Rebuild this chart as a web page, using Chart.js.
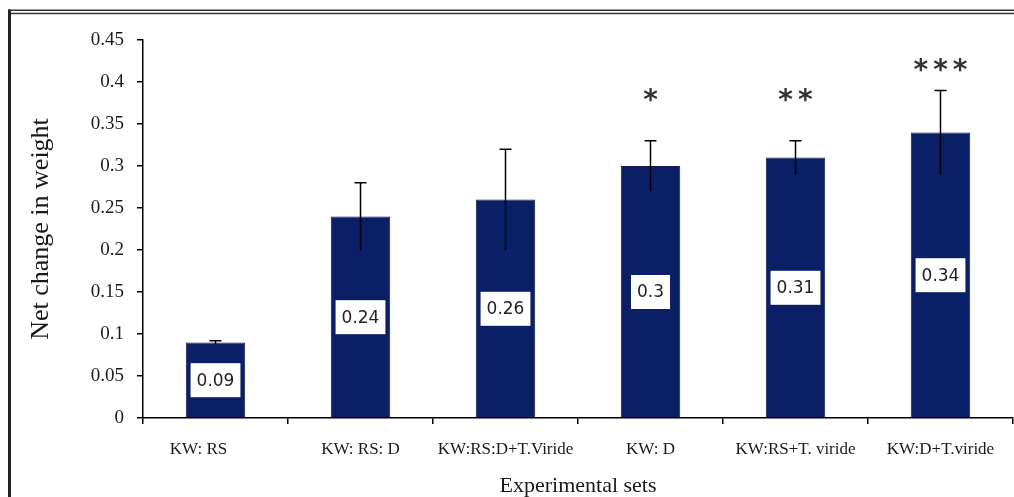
<!DOCTYPE html>
<html>
<head>
<meta charset="utf-8">
<script src="https://cdn.jsdelivr.net/npm/chart.js@4/dist/chart.umd.min.js"></script>
<style>
    html, body { margin: 0; padding: 0; background: #fff; }
    #wrap { width: 1014px; height: 497px; position: relative; }
</style>
</head>
<body>
<div id="wrap"><canvas id="weightChart"></canvas></div>
<script>
// chart data
const categories = ['KW: RS        ', 'KW: RS: D', 'KW:RS:D+T.Viride', 'KW: D', 'KW:RS+T. viride', 'KW:D+T.viride'];
const netChange = [0.09, 0.24, 0.26, 0.3, 0.31, 0.34];
const errors = [0.002, 0.04, 0.06, 0.03, 0.02, 0.05];
const significance = ['', '', '', '*', '**', '***'];
const significanceAt = [null, null, null, 0.385, 0.385, 0.42];
const yTicks = [0, 0.05, 0.1, 0.15, 0.2, 0.25, 0.3, 0.35, 0.4, 0.45];

const serif = '"Liberation Serif", "Times New Roman", serif';

// frame round the figure (double line on top)
const framePlugin = {
    id: 'frame',
    beforeDraw(chart) {
        const ctx = chart.ctx;
        ctx.save();
        ctx.strokeStyle = '#333';
        ctx.lineWidth = 1.5;
        ctx.beginPath();
        ctx.moveTo(8, 10.2); ctx.lineTo(1014, 10.2);
        ctx.moveTo(8, 13.4); ctx.lineTo(1014, 13.4);
        ctx.stroke();
        ctx.lineWidth = 3;
        ctx.strokeStyle = '#222';
        ctx.beginPath();
        ctx.moveTo(9.5, 9.5); ctx.lineTo(9.5, 497);
        ctx.stroke();
        ctx.restore();
    }
};

// error bars, value boxes and significance stars
const annotatePlugin = {
    id: 'annotate',
    afterDatasetsDraw(chart) {
        const ctx = chart.ctx;
        const y = chart.scales.y;
        const bars = chart.getDatasetMeta(0).data;
        ctx.save();
        bars.forEach((bar, i) => {
            const v = netChange[i];
            const e = errors[i];
            const x = bar.x;
            const top = y.getPixelForValue(v + e);
            const bottom = y.getPixelForValue(v - e);

            // error bar
            ctx.strokeStyle = '#000';
            ctx.lineWidth = 1.5;
            ctx.beginPath();
            ctx.moveTo(x, top); ctx.lineTo(x, bottom);
            ctx.moveTo(x - 6, top); ctx.lineTo(x + 6, top);
            ctx.stroke();

            // value box in the middle of the bar
            ctx.font = '17px "DejaVu Sans", sans-serif';
            const label = String(v);
            const w = ctx.measureText(label).width + 12;
            const h = 34;
            const cy = y.getPixelForValue(v / 2);
            ctx.fillStyle = '#fff';
            ctx.fillRect(x - w / 2, cy - h / 2, w, h);
            ctx.fillStyle = '#222';
            ctx.textAlign = 'center';
            ctx.textBaseline = 'middle';
            ctx.fillText(label, x, cy + 1);

            // significance
            if (significance[i]) {
                ctx.font = 'bold 28px "DejaVu Sans", sans-serif';
                ctx.letterSpacing = '5px';
                ctx.fillStyle = '#333';
                ctx.fillText(significance[i], x + 2.5, y.getPixelForValue(significanceAt[i]) + 7);
                ctx.letterSpacing = '0px';
            }
        });
        ctx.restore();
    }
};

new Chart(document.getElementById('weightChart'), {
    type: 'bar',
    data: {
        labels: categories,
        datasets: [{
            label: 'Net change in weight',
            data: netChange,
            backgroundColor: '#0a1f66',
            borderColor: '#141a4a',
            borderWidth: 1,
            barPercentage: 0.41,
            categoryPercentage: 1
        }]
    },
    options: {
        responsive: true,
        maintainAspectRatio: false,
        animation: false,
        layout: { padding: { top: 40, right: 1, left: 0, bottom: 0 } },
        plugins: {
            legend: { display: false },
            tooltip: { enabled: false }
        },
        scales: {
            x: {
                offset: true,
                grid: { display: true, drawOnChartArea: false, offset: true, tickLength: 6, color: '#000', lineWidth: 1.5 },
                border: { display: true, color: '#000', width: 1.5 },
                ticks: { color: '#1a1a1a', padding: 15, font: { family: serif, size: 17 }, maxRotation: 0, autoSkip: false },
                title: {
                    display: true,
                    text: 'Experimental sets',
                    color: '#1a1a1a',
                    font: { family: serif, size: 22, lineHeight: 1 },
                    padding: { top: 0, bottom: 0 }
                },
                afterFit: scale => { scale.height = 79; }
            },
            y: {
                min: 0,
                max: 0.45,
                afterBuildTicks: scale => { scale.ticks = yTicks.map(v => ({ value: v })); },
                grid: { display: true, drawOnChartArea: false, tickLength: 6, color: '#000', lineWidth: 1.5 },
                border: { display: true, color: '#000', width: 1.5 },
                ticks: {
                    color: '#1a1a1a',
                    padding: 13,
                    font: { family: serif, size: 19 },
                    callback: v => String(+v.toFixed(2))
                },
                title: {
                    display: true,
                    text: 'Net change in weight',
                    color: '#1a1a1a',
                    font: { family: serif, size: 26 },
                    padding: { top: 26, bottom: 0 }
                },
                afterFit: scale => { scale.width = 143; }
            }
        }
    },
    plugins: [framePlugin, annotatePlugin]
});
</script>
</body>
</html>
